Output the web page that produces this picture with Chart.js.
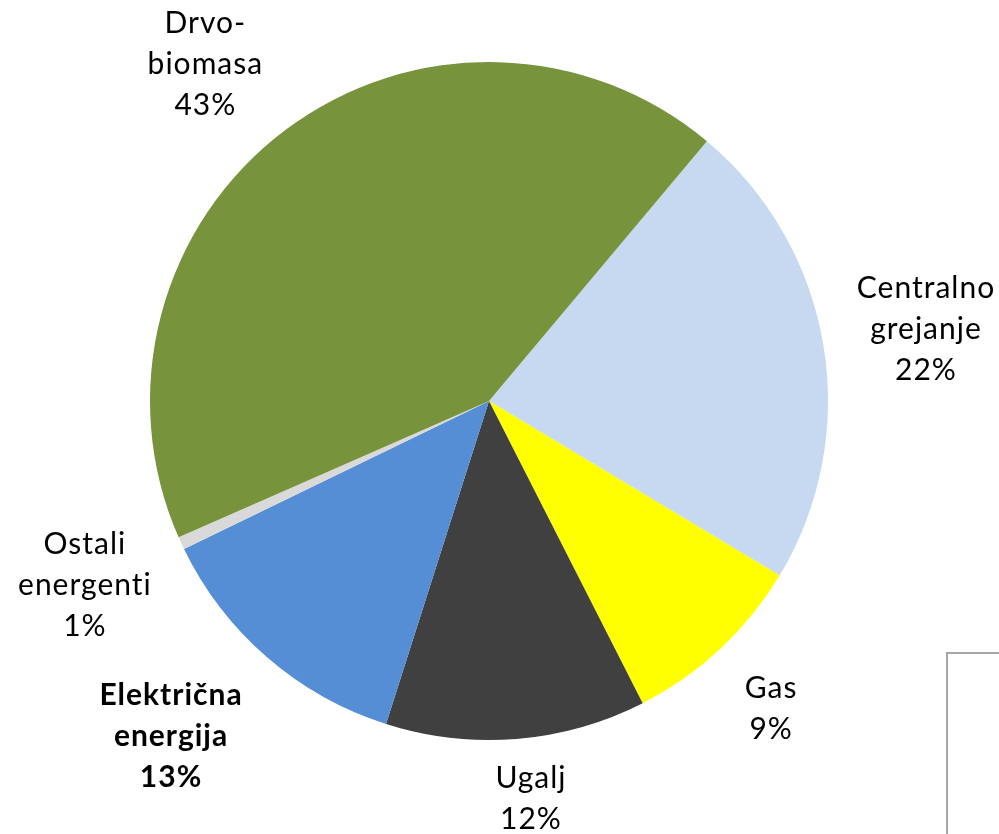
<!DOCTYPE html>
<html>
<head>
<meta charset="utf-8">
<script src="https://cdn.jsdelivr.net/npm/chart.js@4.4.1/dist/chart.umd.min.js"></script>
<style>
  html, body { margin: 0; padding: 0; background: #fff; overflow: hidden; }
  #wrap { position: relative; width: 999px; height: 834px; }
  #box { position: absolute; left: 946px; top: 652px; width: 80px; height: 220px; border: 2px solid #a6a6a6; }
</style>
</head>
<body>
<div id="wrap">
  <canvas id="chartPie" width="999" height="834"></canvas>
  <div id="box"></div>
</div>
<script>
// ---- data ----
const categories = [
  ["Centralno", "grejanje"],
  ["Gas"],
  ["Ugalj"],
  ["Električna", "energija"],
  ["Ostali", "energenti"],
  ["Drvo-", "biomasa"]
];
const shares = [22.5, 8.9, 12.4, 12.9, 0.6, 42.7];
// percentage texts printed on the chart
const pctLabels = ["22%", "9%", "12%", "13%", "1%", "43%"];

const colors = ["#C6D9F1", "#FFFF00", "#404040", "#558ED5", "#D9D9D9", "#77933C"];
const boldLabel = [false, false, false, true, false, false];
// label placement: distance (x radius) and angle nudge (deg) from the slice middle
const labelDist = [1.307, 1.23, 1.177, 1.36, 1.309, 1.30];
const labelNudge = [0, 0.4, -1.4, 2.7, 0.4, -3.2];

// ---- label plugin: text outside each slice ----
const outerLabels = {
  id: "outerLabels",
  afterDatasetsDraw(chart) {
    const ctx = chart.ctx;
    const meta = chart.getDatasetMeta(0);
    ctx.save();
    ctx.fillStyle = "#000";
    ctx.textAlign = "center";
    ctx.textBaseline = "middle";
    ctx.letterSpacing = "1px";
    meta.data.forEach((arc, i) => {
      const p = arc.getProps(["x", "y", "startAngle", "endAngle", "outerRadius"], true);
      const mid = (p.startAngle + p.endAngle) / 2 + labelNudge[i] * Math.PI / 180;
      const d = p.outerRadius * labelDist[i];
      const cx = p.x + Math.cos(mid) * d;
      const cy = p.y + Math.sin(mid) * d + 1;
      const lines = categories[i].concat([pctLabels[i]]);
      const lh = 41;
      ctx.font = (boldLabel[i] ? "bold " : "") + "30px Lato, 'Open Sans', sans-serif";
      const top = cy - (lines.length - 1) * lh / 2;
      lines.forEach((t, k) => ctx.fillText(t, cx, top + k * lh));
    });
    ctx.restore();
  }
};

new Chart(document.getElementById("chartPie"), {
  type: "pie",
  data: {
    labels: categories.map(c => c.join(" ")),
    datasets: [{
      data: shares,
      backgroundColor: colors,
      borderWidth: 0
    }]
  },
  options: {
    responsive: false,
    animation: false,
    devicePixelRatio: 1,
    rotation: 40,
    layout: { padding: { left: 150, right: 171, top: 62, bottom: 94 } },
    plugins: {
      legend: { display: false },
      tooltip: { enabled: false }
    }
  },
  plugins: [outerLabels]
});
</script>
</body>
</html>
